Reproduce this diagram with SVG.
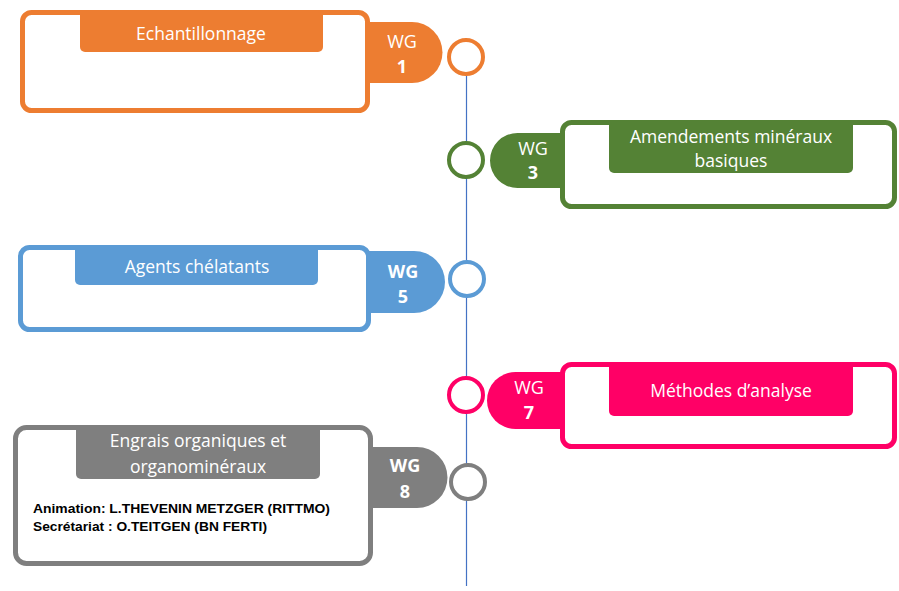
<svg xmlns="http://www.w3.org/2000/svg" width="899" height="591" viewBox="0 0 899 591">
  <style>
    .box { fill: #ffffff; stroke-width: 5; }
    .ring { fill: #ffffff; stroke-width: 4; }
    .title { fill: #ffffff; font-family: "Open Sans", "Liberation Sans", sans-serif; font-size: 17.5px; text-anchor: middle; }
    .wg { fill: #ffffff; font-family: "Open Sans", "Liberation Sans", sans-serif; font-size: 18px; text-anchor: middle; }
    .b { font-weight: bold; }
    .info { fill: #000000; font-family: "Liberation Sans", Arial, sans-serif; font-size: 13px; font-weight: bold; }
  </style>

  <!-- timeline -->
  <g id="connectors">
    <line x1="466.5" y1="60" x2="466.5" y2="586" stroke="#4472C4" stroke-width="1.2"/>
  </g>

  <!-- WG 1 -->
  <g id="wg1">
    <path d="M360,22 H412 A30.5,30.5 0 0 1 412,83 H360 Z" fill="#ED7D31"/>
    <rect class="box" x="22.5" y="12.5" width="345" height="98" rx="9" stroke="#ED7D31"/>
    <path d="M80,13 H323 V47 A5,5 0 0 1 318,52 H85 A5,5 0 0 1 80,47 Z" fill="#ED7D31"/>
    <text class="title" x="201" y="40">Echantillonnage</text>
    <text class="wg" x="402" y="48">WG</text>
    <text class="wg b" x="402" y="73">1</text>
    <circle class="ring" cx="466" cy="57" r="17" stroke="#ED7D31"/>
  </g>

  <!-- WG 3 -->
  <g id="wg3">
    <path d="M570,133 H517.5 A27.5,27.5 0 0 0 517.5,188 H570 Z" fill="#548235"/>
    <rect class="box" x="562.5" y="122.5" width="332" height="84" rx="9" stroke="#548235"/>
    <path d="M609,123 H853 V168 A5,5 0 0 1 848,173 H614 A5,5 0 0 1 609,168 Z" fill="#548235"/>
    <text class="title" x="731" y="143">Amendements minéraux</text>
    <text class="title" x="731" y="167">basiques</text>
    <text class="wg" x="533" y="155">WG</text>
    <text class="wg b" x="533" y="179">3</text>
    <circle class="ring" cx="466" cy="160" r="17" stroke="#548235"/>
  </g>

  <!-- WG 5 -->
  <g id="wg5">
    <path d="M360,251 H414 A31,31 0 0 1 414,313 H360 Z" fill="#5B9BD5"/>
    <rect class="box" x="20.5" y="247.5" width="348" height="82" rx="9" stroke="#5B9BD5"/>
    <path d="M75,248 H318 V280 A5,5 0 0 1 313,285 H80 A5,5 0 0 1 75,280 Z" fill="#5B9BD5"/>
    <text class="title" x="197" y="273">Agents chélatants</text>
    <text class="wg b" x="403" y="278">WG</text>
    <text class="wg b" x="403" y="303">5</text>
    <circle class="ring" cx="467" cy="279" r="17" stroke="#5B9BD5"/>
  </g>

  <!-- WG 7 -->
  <g id="wg7">
    <path d="M570,372 H515.5 A28.5,28.5 0 0 0 515.5,429 H570 Z" fill="#FF0066"/>
    <rect class="box" x="562.5" y="364.5" width="332" height="82" rx="9" stroke="#FF0066"/>
    <path d="M609,365 H853 V411 A5,5 0 0 1 848,416 H614 A5,5 0 0 1 609,411 Z" fill="#FF0066"/>
    <text class="title" x="731" y="397">Méthodes d’analyse</text>
    <text class="wg" x="529" y="394">WG</text>
    <text class="wg b" x="529" y="419">7</text>
    <circle class="ring" cx="466" cy="395" r="17" stroke="#FF0066"/>
  </g>

  <!-- WG 8 -->
  <g id="wg8">
    <path d="M362,447 H417 A30.5,30.5 0 0 1 417,508 H362 Z" fill="#7F7F7F"/>
    <rect class="box" x="15.5" y="427.5" width="355" height="136" rx="11" stroke="#7F7F7F"/>
    <path d="M76,428 H320 V474 A5,5 0 0 1 315,479 H81 A5,5 0 0 1 76,474 Z" fill="#7F7F7F"/>
    <text class="title" x="198" y="447">Engrais organiques et</text>
    <text class="title" x="198" y="473">organominéraux</text>
    <text class="wg b" x="405" y="472">WG</text>
    <text class="wg b" x="405" y="498">8</text>
    <circle class="ring" cx="468" cy="482" r="17" stroke="#7F7F7F"/>
    <text class="info" x="33" y="513" textLength="297" lengthAdjust="spacingAndGlyphs">Animation:  L.THEVENIN METZGER  (RITTMO)</text>
    <text class="info" x="33" y="531" textLength="234" lengthAdjust="spacingAndGlyphs">Secrétariat  : O.TEITGEN  (BN FERTI)</text>
  </g>
</svg>
